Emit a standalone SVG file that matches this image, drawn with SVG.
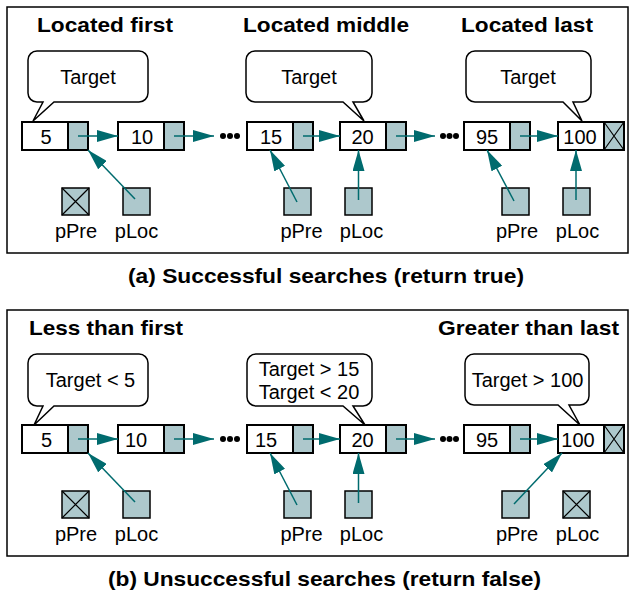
<svg xmlns="http://www.w3.org/2000/svg" width="631" height="592" viewBox="0 0 631 592">
<style>
.frame{fill:#fff;stroke:#000;stroke-width:1.5}
.val{fill:#fff;stroke:#000;stroke-width:2}
.ptr{fill:#adc8cc;stroke:#000;stroke-width:2}
.pbox{fill:#adc8cc;stroke:#000;stroke-width:1.5}
.x{stroke:#000;stroke-width:1.2;fill:none}
.call{fill:#fff;stroke:#000;stroke-width:1.5;stroke-linejoin:miter}
.t{font-family:"Liberation Sans",Arial,sans-serif;font-size:20px;fill:#000}
.b{font-family:"Liberation Sans",Arial,sans-serif;font-size:21px;font-weight:bold;fill:#000}
.m{text-anchor:middle}
.arr{stroke:#006b6e;stroke-width:1.5;fill:none;marker-end:url(#ah)}
.dot{fill:#000}
</style>
<defs>
<marker id="ah" markerUnits="userSpaceOnUse" viewBox="0 0 21 12" refX="21" refY="6" markerWidth="21" markerHeight="12" orient="auto">
<path d="M0,0 L21,6 L0,12 Z" fill="#006b6e"/>
</marker>
</defs>
<rect fill="#fff" x="0" y="0" width="631" height="592"/>

<!-- Panel (a) -->
<g id="panel-a">
<rect class="frame" x="7" y="7" width="621" height="246"/>
<text class="b" x="37" y="32" textLength="136" lengthAdjust="spacingAndGlyphs">Located first</text>
<text class="b" x="243" y="32" textLength="166" lengthAdjust="spacingAndGlyphs">Located middle</text>
<text class="b" x="461" y="32" textLength="132" lengthAdjust="spacingAndGlyphs">Located last</text>
</g>

<g id="a-callout1">
<path class="call" d="M37,51 H139 A9,9 0 0 1 148,60 V93 A9,9 0 0 1 139,102 H54 L33,121 L43,102 H37 A9,9 0 0 1 28,93 V60 A9,9 0 0 1 37,51 Z"/>
<text class="t m" x="88" y="84">Target</text>
</g>
<g id="a-callout2">
<path class="call" d="M255,51 H363 A9,9 0 0 1 372,60 V93 A9,9 0 0 1 363,102 H353 L364,121 L343,102 H255 A9,9 0 0 1 246,93 V60 A9,9 0 0 1 255,51 Z"/>
<text class="t m" x="309" y="84">Target</text>
</g>
<g id="a-callout3">
<path class="call" d="M475,51 H582 A9,9 0 0 1 591,60 V93 A9,9 0 0 1 582,102 H573 L582,121 L563,102 H475 A9,9 0 0 1 466,93 V60 A9,9 0 0 1 475,51 Z"/>
<text class="t m" x="528" y="84">Target</text>
</g>

<g id="a-n5"><rect class="val" x="22" y="122" width="46" height="28"/><rect class="ptr" x="68" y="122" width="20" height="28"/><text class="t m" x="46" y="144">5</text></g>
<g id="a-n10"><rect class="val" x="118" y="122" width="46" height="28"/><rect class="ptr" x="164" y="122" width="20" height="28"/><text class="t m" x="142" y="144">10</text></g>
<g id="a-dots1"><circle class="dot" cx="223" cy="136" r="3"/><circle class="dot" cx="230" cy="136" r="3"/><circle class="dot" cx="237" cy="136" r="3"/></g>
<g id="a-n15"><rect class="val" x="247" y="122" width="46" height="28"/><rect class="ptr" x="293" y="122" width="20" height="28"/><text class="t m" x="271" y="144">15</text></g>
<g id="a-n20"><rect class="val" x="340" y="122" width="46" height="28"/><rect class="ptr" x="386" y="122" width="20" height="28"/><text class="t m" x="362.5" y="144">20</text></g>
<g id="a-dots2"><circle class="dot" cx="443" cy="136" r="3"/><circle class="dot" cx="449.5" cy="136" r="3"/><circle class="dot" cx="456" cy="136" r="3"/></g>
<g id="a-n95"><rect class="val" x="464" y="122" width="46" height="28"/><rect class="ptr" x="510" y="122" width="20" height="28"/><text class="t m" x="487" y="144">95</text></g>
<g id="a-n100"><rect class="val" x="558" y="122" width="46" height="28"/><rect class="ptr" x="604" y="122" width="20" height="28"/><path class="x" d="M604,122 L624,150 M624,122 L604,150"/><text class="t m" x="580" y="144">100</text></g>

<g id="a-pPre1"><rect class="pbox" x="62" y="188" width="27" height="27"/><path class="x" d="M62,188 L89,215 M89,188 L62,215"/><text class="t m" x="76" y="238">pPre</text></g>
<g id="a-pLoc1"><rect class="pbox" x="123" y="188" width="27" height="27"/><text class="t m" x="136.5" y="238">pLoc</text></g>
<g id="a-pPre2"><rect class="pbox" x="284" y="188" width="27" height="27"/><text class="t m" x="301.5" y="238">pPre</text></g>
<g id="a-pLoc2"><rect class="pbox" x="345" y="188" width="27" height="27"/><text class="t m" x="361.5" y="238">pLoc</text></g>
<g id="a-pPre3"><rect class="pbox" x="502" y="188" width="27" height="27"/><text class="t m" x="517" y="238">pPre</text></g>
<g id="a-pLoc3"><rect class="pbox" x="563" y="188" width="27" height="27"/><text class="t m" x="577.5" y="238">pLoc</text></g>

<text id="caption-a" class="b" x="128" y="283" textLength="396" lengthAdjust="spacingAndGlyphs">(a) Successful searches (return true)</text>

<!-- Panel (b) -->
<g id="panel-b">
<rect class="frame" x="7" y="310" width="621" height="246"/>
<text class="b" x="29" y="335" textLength="154" lengthAdjust="spacingAndGlyphs">Less than first</text>
<text class="b" x="438" y="335" textLength="181" lengthAdjust="spacingAndGlyphs">Greater than last</text>
</g>

<g id="b-callout1">
<path class="call" d="M37,354 H139 A9,9 0 0 1 148,363 V397 A9,9 0 0 1 139,406 H54 L34,425 L43,406 H37 A9,9 0 0 1 28,397 V363 A9,9 0 0 1 37,354 Z"/>
<text class="t m" x="90.5" y="387">Target &lt; 5</text>
</g>
<g id="b-callout2">
<path class="call" d="M256,354 H363 A9,9 0 0 1 372,363 V397 A9,9 0 0 1 363,406 H353 L365,425 L343,406 H256 A9,9 0 0 1 247,397 V363 A9,9 0 0 1 256,354 Z"/>
<text class="t m" x="309" y="376">Target &gt; 15</text>
<text class="t m" x="309" y="399">Target &lt; 20</text>
</g>
<g id="b-callout3">
<path class="call" d="M474,354 H580 A9,9 0 0 1 589,363 V396 A9,9 0 0 1 580,405 H569 L580,425 L558,405 H474 A9,9 0 0 1 465,396 V363 A9,9 0 0 1 474,354 Z"/>
<text class="t m" x="527.5" y="387">Target &gt; 100</text>
</g>

<g id="b-n5"><rect class="val" x="22" y="425" width="46" height="28"/><rect class="ptr" x="68" y="425" width="20" height="28"/><text class="t m" x="46.5" y="447">5</text></g>
<g id="b-n10"><rect class="val" x="118" y="425" width="46" height="28"/><rect class="ptr" x="164" y="425" width="20" height="28"/><text class="t m" x="136" y="447">10</text></g>
<g id="b-dots1"><circle class="dot" cx="223" cy="439" r="3"/><circle class="dot" cx="230" cy="439" r="3"/><circle class="dot" cx="237" cy="439" r="3"/></g>
<g id="b-n15"><rect class="val" x="247" y="425" width="46" height="28"/><rect class="ptr" x="293" y="425" width="20" height="28"/><text class="t m" x="266" y="447">15</text></g>
<g id="b-n20"><rect class="val" x="340" y="425" width="46" height="28"/><rect class="ptr" x="386" y="425" width="20" height="28"/><text class="t m" x="362.5" y="447">20</text></g>
<g id="b-dots2"><circle class="dot" cx="443" cy="439" r="3"/><circle class="dot" cx="449.5" cy="439" r="3"/><circle class="dot" cx="456" cy="439" r="3"/></g>
<g id="b-n95"><rect class="val" x="464" y="425" width="46" height="28"/><rect class="ptr" x="510" y="425" width="20" height="28"/><text class="t m" x="487" y="447">95</text></g>
<g id="b-n100"><rect class="val" x="558" y="425" width="46" height="28"/><rect class="ptr" x="604" y="425" width="20" height="28"/><path class="x" d="M604,425 L624,453 M624,425 L604,453"/><text class="t m" x="578" y="447">100</text></g>

<g id="b-pPre1"><rect class="pbox" x="62" y="491" width="27" height="27"/><path class="x" d="M62,491 L89,518 M89,491 L62,518"/><text class="t m" x="76" y="541">pPre</text></g>
<g id="b-pLoc1"><rect class="pbox" x="123" y="491" width="27" height="27"/><text class="t m" x="136.5" y="541">pLoc</text></g>
<g id="b-pPre2"><rect class="pbox" x="284" y="491" width="27" height="27"/><text class="t m" x="301.5" y="541">pPre</text></g>
<g id="b-pLoc2"><rect class="pbox" x="345" y="491" width="27" height="27"/><text class="t m" x="361.5" y="541">pLoc</text></g>
<g id="b-pPre3"><rect class="pbox" x="502" y="491" width="27" height="27"/><text class="t m" x="517" y="541">pPre</text></g>
<g id="b-pLoc3"><rect class="pbox" x="563" y="491" width="27" height="27"/><path class="x" d="M563,491 L590,518 M590,491 L563,518"/><text class="t m" x="577.5" y="541">pLoc</text></g>

<text id="caption-b" class="b" x="108" y="586" textLength="433" lengthAdjust="spacingAndGlyphs">(b) Unsuccessful searches (return false)</text>

<g id="connectors">
<line class="arr" x1="78" y1="136" x2="118" y2="136"/>
<line class="arr" x1="174" y1="136" x2="214" y2="136"/>
<line class="arr" x1="303" y1="136" x2="340" y2="136"/>
<line class="arr" x1="396" y1="136" x2="435" y2="136"/>
<line class="arr" x1="520" y1="136" x2="558" y2="136"/>
<line class="arr" x1="135" y1="199" x2="88" y2="150"/>
<line class="arr" x1="297" y1="202" x2="270" y2="150"/>
<line class="arr" x1="358.5" y1="200" x2="358.5" y2="150"/>
<line class="arr" x1="514" y1="201" x2="487" y2="150"/>
<line class="arr" x1="576" y1="200" x2="576" y2="150"/>

<line class="arr" x1="78" y1="439" x2="118" y2="439"/>
<line class="arr" x1="174" y1="439" x2="214" y2="439"/>
<line class="arr" x1="303" y1="439" x2="340" y2="439"/>
<line class="arr" x1="396" y1="439" x2="435" y2="439"/>
<line class="arr" x1="520" y1="439" x2="558" y2="439"/>
<line class="arr" x1="135" y1="502" x2="88" y2="453"/>
<line class="arr" x1="297" y1="505" x2="270" y2="453"/>
<line class="arr" x1="358.5" y1="503" x2="358.5" y2="453"/>
<line class="arr" x1="514" y1="504" x2="562" y2="453"/>
</g>
</svg>
